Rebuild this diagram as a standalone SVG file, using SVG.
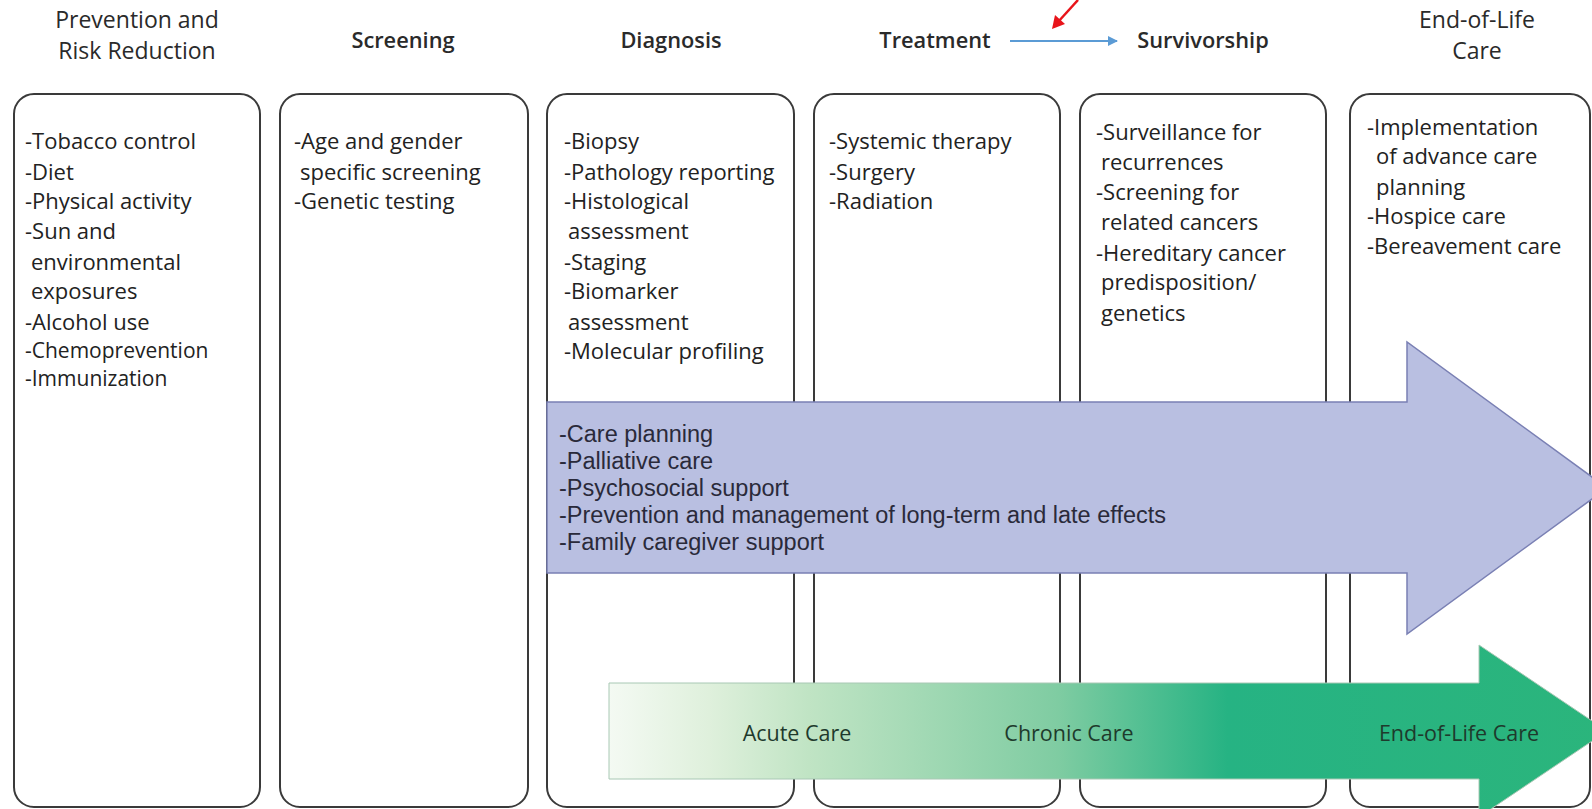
<svg xmlns="http://www.w3.org/2000/svg" width="1592" height="809" viewBox="0 0 1592 809">
<defs>
<style>
.hdr{font-family:"Open Sans","Liberation Sans",sans-serif;font-size:23px;fill:#2a2a2a;text-anchor:middle}
.hb{font-weight:600;font-size:21.8px}
.box{fill:#fff;stroke:#3a3a3a;stroke-width:2}
.it{font-family:"Open Sans","Liberation Sans",sans-serif;font-size:22px;fill:#222}
.pt{font-family:"Liberation Sans",Arial,sans-serif;font-size:23.5px;fill:#2a2a3a}
.gt{font-family:"Open Sans","Liberation Sans",sans-serif;font-size:21.5px;fill:#1e3a2c;text-anchor:middle}
</style>
<linearGradient id="gg" x1="609" y1="0" x2="1607" y2="0" gradientUnits="userSpaceOnUse">
<stop offset="0" stop-color="#f4faf3"/>
<stop offset="0.1" stop-color="#dff0dc"/>
<stop offset="0.2" stop-color="#c0e4c4"/>
<stop offset="0.45" stop-color="#7fcca2"/>
<stop offset="0.62" stop-color="#26b383"/>
<stop offset="1" stop-color="#2bb57c"/>
</linearGradient>
<marker id="mb" markerWidth="10" markerHeight="10" refX="9" refY="5" orient="auto" markerUnits="userSpaceOnUse" viewBox="0 0 10 10">
<path d="M0,0 L10,5 L0,10 z" fill="#5b9bd5"/>
</marker>
</defs>
<rect width="1592" height="809" fill="#fff"/>

<g id="headers">
<text class="hdr" x="137" y="28">Prevention and</text>
<text class="hdr" x="137" y="59">Risk Reduction</text>
<text class="hdr hb" x="403" y="48">Screening</text>
<text class="hdr hb" x="671" y="48">Diagnosis</text>
<text class="hdr hb" x="935" y="48">Treatment</text>
<text class="hdr hb" x="1203" y="48">Survivorship</text>
<text class="hdr" x="1477" y="28">End-of-Life</text>
<text class="hdr" x="1477" y="59">Care</text>
</g>

<g id="node-prevention">
<rect class="box" x="14" y="94" width="246" height="713" rx="20"/>
<text class="it" x="25" y="149">-Tobacco control</text>
<text class="it" x="25" y="180">-Diet</text>
<text class="it" x="25" y="209">-Physical activity</text>
<text class="it" x="25" y="239">-Sun and</text>
<text class="it" x="31" y="270">environmental</text>
<text class="it" x="31" y="299">exposures</text>
<text class="it" x="25" y="330">-Alcohol use</text>
<text class="it" x="25" y="358" style="font-size:21px">-Chemoprevention</text>
<text class="it" x="25" y="386" style="font-size:21px">-Immunization</text>
</g>

<g id="node-screening">
<rect class="box" x="280" y="94" width="248" height="713" rx="20"/>
<text class="it" x="294" y="149">-Age and gender</text>
<text class="it" x="300" y="180">specific screening</text>
<text class="it" x="294" y="209">-Genetic testing</text>
</g>

<g id="node-diagnosis">
<rect class="box" x="547" y="94" width="247" height="713" rx="20"/>
<text class="it" x="564" y="149">-Biopsy</text>
<text class="it" x="564" y="180">-Pathology reporting</text>
<text class="it" x="564" y="209">-Histological</text>
<text class="it" x="568" y="239">assessment</text>
<text class="it" x="564" y="270">-Staging</text>
<text class="it" x="564" y="299">-Biomarker</text>
<text class="it" x="568" y="330">assessment</text>
<text class="it" x="564" y="359">-Molecular profiling</text>
</g>

<g id="node-treatment">
<rect class="box" x="814" y="94" width="246" height="713" rx="20"/>
<text class="it" x="829" y="149">-Systemic therapy</text>
<text class="it" x="829" y="180">-Surgery</text>
<text class="it" x="829" y="209">-Radiation</text>
</g>

<g id="node-survivorship">
<rect class="box" x="1080" y="94" width="246" height="713" rx="20"/>
<text class="it" x="1096" y="140">-Surveillance for</text>
<text class="it" x="1101" y="170">recurrences</text>
<text class="it" x="1096" y="200">-Screening for</text>
<text class="it" x="1101" y="230">related cancers</text>
<text class="it" x="1096" y="261">-Hereditary cancer</text>
<text class="it" x="1101" y="290">predisposition/</text>
<text class="it" x="1101" y="321">genetics</text>
</g>

<g id="node-endoflife">
<rect class="box" x="1350" y="94" width="240" height="713" rx="20"/>
<text class="it" x="1367" y="135">-Implementation</text>
<text class="it" x="1376" y="164">of advance care</text>
<text class="it" x="1376" y="195">planning</text>
<text class="it" x="1367" y="224">-Hospice care</text>
<text class="it" x="1367" y="254">-Bereavement care</text>
</g>

<g id="band-supportive">
<polygon points="547,402 1407,402 1407,342 1607,488 1407,634 1407,573 547,573" fill="#b9bfe1" stroke="#7a80b4" stroke-width="1.5"/>
<text class="pt" x="559" y="442">-Care planning</text>
<text class="pt" x="559" y="469">-Palliative care</text>
<text class="pt" x="559" y="496">-Psychosocial support</text>
<text class="pt" x="559" y="523">-Prevention and management of long-term and late effects</text>
<text class="pt" x="559" y="550">-Family caregiver support</text>
</g>

<g id="band-care">
<polygon points="609,683 1479,683 1479,645 1607,731 1479,817 1479,779 609,779" fill="url(#gg)" stroke="#a8c8b4" stroke-width="1"/>
<text class="gt" x="797" y="741">Acute Care</text>
<text class="gt" x="1069" y="741">Chronic Care</text>
<text class="gt" x="1459" y="741">End-of-Life Care</text>
</g>

<g id="connectors">
<line x1="1010" y1="41" x2="1117" y2="41" stroke="#5b9bd5" stroke-width="2" marker-end="url(#mb)"/>
<line x1="1078" y1="0" x2="1058" y2="22" stroke="#e8141a" stroke-width="2.5"/>
<polygon points="1052,29 1055,15 1065,24" fill="#e8141a"/>
</g>
</svg>
